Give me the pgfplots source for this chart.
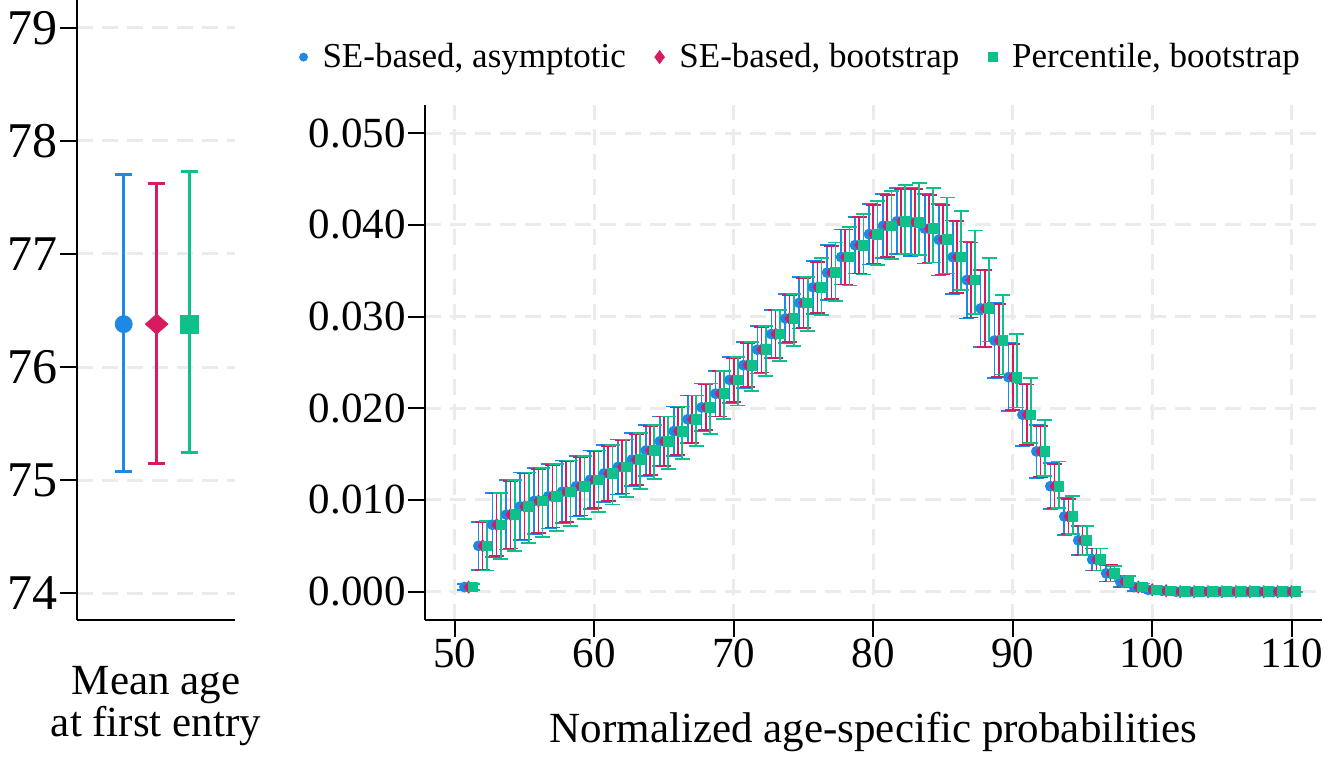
\documentclass[border=0pt]{standalone}
\usepackage{fontspec}
\setmainfont{Liberation Serif}
\usepackage{pgfplots}
\pgfplotsset{compat=1.18}
\usepackage{pgfplotstable}
\definecolor{cblue}{HTML}{1E88E5}
\definecolor{cred}{HTML}{D81B60}
\definecolor{cgreen}{HTML}{10C08A}
\definecolor{gridgray}{HTML}{EBEBEB}

\pgfplotstableread{
age y eb er gu gd
51 0.0005 0.0003 0.0003 0.0003 0.0003
52 0.0050 0.0026 0.0026 0.0027 0.0027
53 0.0073 0.0035 0.0034 0.0035 0.0037
54 0.0084 0.0038 0.0037 0.0038 0.0040
55 0.0093 0.0037 0.0036 0.0037 0.0040
56 0.0099 0.0036 0.0035 0.0036 0.0039
57 0.0104 0.0035 0.0034 0.0035 0.0038
58 0.0109 0.0034 0.0033 0.0034 0.0037
59 0.0115 0.0033 0.0032 0.0033 0.0036
60 0.0122 0.0032 0.0031 0.0032 0.0035
61 0.0129 0.0031 0.0030 0.0031 0.0034
62 0.0136 0.0030 0.0029 0.0030 0.0033
63 0.0144 0.0029 0.0028 0.0029 0.0032
64 0.0154 0.0028 0.0027 0.0028 0.0031
65 0.0164 0.0027 0.0027 0.0027 0.0030
66 0.0175 0.0027 0.0026 0.0027 0.0030
67 0.0188 0.0026 0.0026 0.0026 0.0029
68 0.0201 0.0026 0.0025 0.0026 0.0029
69 0.0216 0.0025 0.0025 0.0025 0.0028
70 0.0231 0.0025 0.0024 0.0025 0.0028
71 0.0247 0.0025 0.0024 0.0025 0.0028
72 0.0264 0.0026 0.0025 0.0026 0.0029
73 0.0281 0.0026 0.0026 0.0026 0.0029
74 0.0298 0.0027 0.0026 0.0027 0.0030
75 0.0315 0.0028 0.0027 0.0028 0.0031
76 0.0332 0.0029 0.0028 0.0032 0.0030
77 0.0348 0.0030 0.0029 0.0033 0.0031
78 0.0365 0.0030 0.0030 0.0033 0.0031
79 0.0378 0.0031 0.0031 0.0034 0.0032
80 0.0390 0.0033 0.0032 0.0036 0.0034
81 0.0399 0.0035 0.0034 0.0038 0.0036
82 0.0404 0.0036 0.0035 0.0040 0.0036
83 0.0403 0.0037 0.0036 0.0043 0.0036
84 0.0396 0.0038 0.0037 0.0044 0.0037
85 0.0384 0.0039 0.0038 0.0046 0.0037
86 0.0365 0.0040 0.0039 0.0050 0.0036
87 0.0340 0.0042 0.0041 0.0054 0.0037
88 0.0309 0.0042 0.0042 0.0055 0.0036
89 0.0274 0.0041 0.0040 0.0050 0.0037
90 0.0234 0.0037 0.0036 0.0047 0.0033
91 0.0193 0.0034 0.0033 0.0040 0.0031
92 0.0153 0.0029 0.0028 0.0034 0.0027
93 0.0115 0.0025 0.0024 0.0027 0.0024
94 0.0082 0.0020 0.0019 0.0022 0.0019
95 0.0056 0.0016 0.0016 0.0016 0.0016
96 0.0035 0.0012 0.0012 0.0012 0.0012
97 0.0020 0.0009 0.0009 0.0008 0.0009
98 0.0011 0.0006 0.0006 0.0006 0.0006
99 0.0005 0.0004 0.0004 0.0004 0.0004
100 0.0002 0.0002 0.0002 0.0002 0.0002
101 0.0001 0.0001 0.0001 0.0001 0.0001
102 0.0000 0.0000 0.0000 0.0000 0.0000
103 0.0000 0.0000 0.0000 0.0000 0.0000
104 0.0000 0.0000 0.0000 0.0000 0.0000
105 0.0000 0.0000 0.0000 0.0000 0.0000
106 0.0000 0.0000 0.0000 0.0000 0.0000
107 0.0000 0.0000 0.0000 0.0000 0.0000
108 0.0000 0.0000 0.0000 0.0000 0.0000
109 0.0000 0.0000 0.0000 0.0000 0.0000
110 0.0000 0.0000 0.0000 0.0000 0.0000
}\probs

\pgfplotsset{
  common/.style={
    scale only axis,
    anchor=south west,
    axis x line*=bottom, axis y line*=left,
    axis line style={-, line width=1pt, black},
    tick align=outside, major tick length=8.5pt,
    tick style={line width=1pt, black},
    grid style={gridgray, line width=1.5pt, dash pattern=on 8pt off 4.5pt},
    /pgf/number format/assume math mode=true,
  },
}

\begin{document}
\begin{tikzpicture}[x=1pt,y=1pt]
\useasboundingbox (0,0) rectangle (672,379);
% left panel
\begin{axis}[common,
  at={(38.5pt,69pt)},
  width=79pt, height=310pt,
  xmin=-0.417, xmax=4.378, ymin=73.765, ymax=79.245,
  xtick=\empty, ytick={74,75,76,77,78,79},
  ymajorgrids,
  yticklabel style={font=\fontsize{25}{25}\selectfont, inner sep=1pt},
  xlabel={Mean age\\at first entry},
  xlabel style={at={(axis description cs:0.5,-0.0734)}, anchor=north, inner sep=0pt, align=center, font=\fontsize{21.5}{21}\selectfont},
]
\addplot[cblue, only marks, mark=*, mark size=4.25pt,
  error bars/.cd, y dir=both, y explicit,
  error bar style={line width=1.6pt},
  error mark options={rotate=90, mark size=4.25pt, line width=1.6pt}]
  coordinates {(1,76.38) += (0,1.32) -= (0,1.305)};
\addplot[cred, only marks, mark=diamond*, mark size=5pt, mark options={xscale=1.5},
  error bars/.cd, y dir=both, y explicit,
  error bar style={line width=1.6pt},
  error mark options={rotate=90, mark size=4.25pt, line width=1.6pt}]
  coordinates {(2,76.38) += (0,1.244) -= (0,1.232)};
\addplot[cgreen, only marks, mark=square*, mark size=4.5pt,
  error bars/.cd, y dir=both, y explicit,
  error bar style={line width=1.6pt},
  error mark options={rotate=90, mark size=4.25pt, line width=1.6pt}]
  coordinates {(3,76.38) += (0,1.352) -= (0,1.133)};
\end{axis}
% right panel
\begin{axis}[common,
  at={(212.5pt,69pt)},
  width=448.5pt, height=257.5pt,
  xmin=47.87, xmax=112.17, ymin=-0.00309, ymax=0.05309,
  xtick={50,60,70,80,90,100,110},
  ytick={0,0.01,0.02,0.03,0.04,0.05},
  scaled y ticks=false,
  yticklabel style={/pgf/number format/.cd, fixed, fixed zerofill, precision=3},
  ticklabel style={font=\fontsize{21.5}{21.5}\selectfont, inner sep=1pt},
  xmajorgrids, ymajorgrids,
  xlabel={Normalized age-specific probabilities},
  xlabel style={at={(axis description cs:0.5,-0.1786)}, anchor=north, inner sep=0pt, font=\fontsize{21.5}{21.5}\selectfont},
  legend columns=3,
  legend style={at={(-0.147,1.093)}, anchor=west, draw=none, fill=none,
    font=\fontsize{17.5}{17.5}\selectfont,
    /tikz/every odd column/.append style={column sep=5.5pt},
    /tikz/every even column/.append style={column sep=12.5pt}},
  legend image code/.code={\draw[#1] plot coordinates {(0pt,0pt)};},
]
\addplot[cblue, only marks, mark=*, mark size=2.5pt, forget plot,
  error bars/.cd, y dir=both, y explicit,
  error bar style={line width=0.85pt},
  error mark options={rotate=90, mark size=3.75pt, line width=0.85pt}]
  table[x expr=\thisrow{age}-0.3, y=y, y error=eb] {\probs};
\addplot[cred, only marks, mark=diamond*, mark size=3pt, forget plot,
  error bars/.cd, y dir=both, y explicit,
  error bar style={line width=0.85pt},
  error mark options={rotate=90, mark size=3.75pt, line width=0.85pt}]
  table[x=age, y=y, y error=er] {\probs};
\addplot[cgreen, only marks, mark=square*, mark size=2.4pt, forget plot,
  error bars/.cd, y dir=both, y explicit,
  error bar style={line width=0.85pt},
  error mark options={rotate=90, mark size=3.75pt, line width=0.85pt}]
  table[x expr=\thisrow{age}+0.3, y=y, y error plus=gu, y error minus=gd] {\probs};
\addlegendimage{cblue, only marks, mark=*, mark size=2pt}
\addlegendentry{SE-based, asymptotic}
\addlegendimage{cred, only marks, mark=diamond*, mark size=3.2pt}
\addlegendentry{SE-based, bootstrap}
\addlegendimage{cgreen, only marks, mark=square*, mark size=2.2pt}
\addlegendentry{Percentile, bootstrap}
\end{axis}
\end{tikzpicture}
\end{document}
